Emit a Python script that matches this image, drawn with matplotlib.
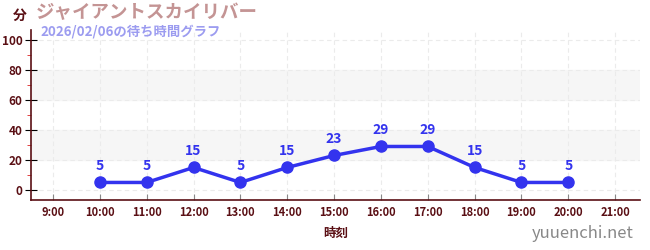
import matplotlib
matplotlib.use("Agg")
import matplotlib.pyplot as plt
from matplotlib.ticker import MultipleLocator

plt.rcParams['font.family'] = ['Noto Sans CJK JP', 'DejaVu Sans']

# Datos del gráfico
horas = [10, 11, 12, 13, 14, 15, 16, 17, 18, 19, 20]
espera = [5, 5, 15, 5, 15, 23, 29, 29, 15, 5, 5]
ticks_x = list(range(9, 22))
etiquetas_x = [f"{h}:00" for h in ticks_x]
ticks_y = [0, 20, 40, 60, 80, 100]

titulo = "ジャイアントスカイリバー"
subtitulo = "2026/02/06の待ち時間グラフ"

oscuro = '#5a0f14'
azul = '#3333ee'

fig = plt.figure(figsize=(6.5, 2.5), dpi=100)
ax = fig.add_axes([31 / 650, 50 / 250, 609 / 650, 170 / 250])

# Bandas grises
for a, b in [(20, 40), (60, 80)]:
    ax.axhspan(a, b, color='#f6f6f6', zorder=0)

ax.plot(horas, espera, color=azul, lw=2.5, marker='o', ms=8, zorder=3)
for h, v in zip(horas, espera):
    ax.annotate(str(v), (h, v), xytext=(0, 7), textcoords='offset points',
                ha='center', va='bottom', color=azul, fontsize=10, fontweight='bold')

ax.set_xlim(8.53, 21.53)
ax.set_ylim(-6.7, 106.7)
ax.set_xticks(ticks_x)
ax.set_xticklabels(etiquetas_x)
ax.set_yticks(ticks_y)
ax.yaxis.set_minor_locator(MultipleLocator(10))

ax.grid(True, which='major', color='#ebebeb', ls=(0, (4, 3)), lw=0.8)
ax.set_axisbelow(True)

for s in ['top', 'right']:
    ax.spines[s].set_visible(False)
for s in ['left', 'bottom']:
    ax.spines[s].set_color(oscuro)
    ax.spines[s].set_linewidth(1.2)

ax.tick_params(axis='x', direction='in', length=4, color='#888888',
               labelsize=8, labelcolor=oscuro, pad=4)
ax.tick_params(axis='y', which='major', direction='inout', length=8, color='black',
               labelsize=8.5, labelcolor=oscuro, pad=2)
ax.tick_params(axis='y', which='minor', direction='out', length=3, color='#dd2222')
for lab in ax.get_xticklabels() + ax.get_yticklabels():
    lab.set_fontweight('bold')

ax.set_xlabel("時刻", color=oscuro, fontsize=9, fontweight='bold', labelpad=6)

fig.text(20 / 650, 1 - 16 / 250, "分", color=oscuro, fontsize=10, fontweight='bold',
         ha='center', va='center')
fig.text(36 / 650, 1 - 13 / 250, titulo, color='#c49494', fontsize=13.3, fontweight='bold',
         va='center')
fig.text(40 / 650, 1 - 31 / 250, subtitulo, color='#9c9cf0', fontsize=9.6, fontweight='bold',
         va='center')
fig.text(634 / 650, 1 - 234 / 250, "yuuenchi.net", color='#888888', fontsize=12,
         ha='right', va='center')

fig.savefig("out.png", dpi=100)
